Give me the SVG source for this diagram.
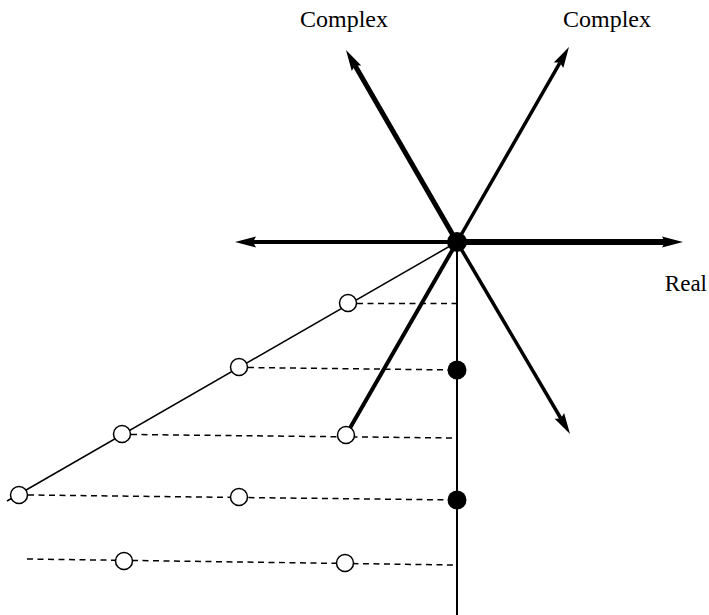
<svg xmlns="http://www.w3.org/2000/svg" width="709" height="615" viewBox="0 0 709 615">
<style>
.lbl{font-family:"Liberation Serif","Times New Roman",serif;font-size:24px;fill:#000}
.dash{stroke:#000;stroke-width:1.5;stroke-dasharray:6 4.5;fill:none}
.thin{stroke:#000;stroke-width:1.5;fill:none}
.axis{stroke:#000;fill:none}
.open{fill:#fff;stroke:#000;stroke-width:1.5}
.solid{fill:#000;stroke:none}
</style>
<defs>
<marker id="ah" markerUnits="userSpaceOnUse" markerWidth="21" markerHeight="11" refX="3" refY="5.5" orient="auto" overflow="visible">
<path d="M0,0 L21,5.5 L0,11 L3,5.5 z" fill="#000"/>
</marker>
</defs>
<g id="labels">
<text class="lbl" x="300" y="27">Complex</text>
<text class="lbl" x="563" y="27">Complex</text>
<text class="lbl" x="707" y="291" text-anchor="end" style="font-size:23px">Real</text>
</g>
<g id="connectors">
<line class="dash" x1="357" y1="303.5" x2="457" y2="303.5"/>
<line class="dash" x1="248" y1="367.5" x2="457" y2="370"/>
<line class="dash" x1="131" y1="434.5" x2="454" y2="438"/>
<line class="dash" x1="28" y1="495" x2="457" y2="500"/>
<line class="dash" x1="27" y1="559" x2="454" y2="565"/>
<line class="thin" x1="457" y1="242" x2="7" y2="501"/>
<line class="axis" stroke-width="2" x1="457" y1="242" x2="457" y2="615"/>
<line class="axis" stroke-width="4" x1="457" y1="242" x2="253" y2="242" marker-end="url(#ah)"/>
<line class="axis" stroke-width="6" x1="457" y1="242" x2="665" y2="242" marker-end="url(#ah)"/>
<line class="axis" stroke-width="5" x1="457" y1="242" x2="355" y2="65.6" marker-end="url(#ah)"/>
<line class="axis" stroke-width="3.5" x1="457" y1="242" x2="560" y2="62.6" marker-end="url(#ah)"/>
<line class="axis" stroke-width="3.5" x1="457" y1="242" x2="560.9" y2="418.5" marker-end="url(#ah)"/>
<line class="axis" stroke-width="4" x1="457" y1="242" x2="346" y2="435"/>
</g>
<g id="origin"><circle class="solid" cx="457" cy="242" r="10"/></g>
<g id="p1"><circle class="open" cx="348" cy="303" r="8.5"/></g>
<g id="p2"><circle class="open" cx="239" cy="367" r="8.5"/></g>
<g id="p3"><circle class="open" cx="122" cy="434" r="8.5"/></g>
<g id="p4"><circle class="open" cx="19" cy="495" r="8.5"/></g>
<g id="p5"><circle class="open" cx="346" cy="435" r="8.5"/></g>
<g id="p6"><circle class="open" cx="239" cy="497" r="8.5"/></g>
<g id="p7"><circle class="open" cx="124" cy="561" r="8.5"/></g>
<g id="p8"><circle class="open" cx="345" cy="563" r="8.5"/></g>
<g id="f1"><circle class="solid" cx="457" cy="370" r="9.5"/></g>
<g id="f2"><circle class="solid" cx="457" cy="500" r="9.5"/></g>
</svg>
